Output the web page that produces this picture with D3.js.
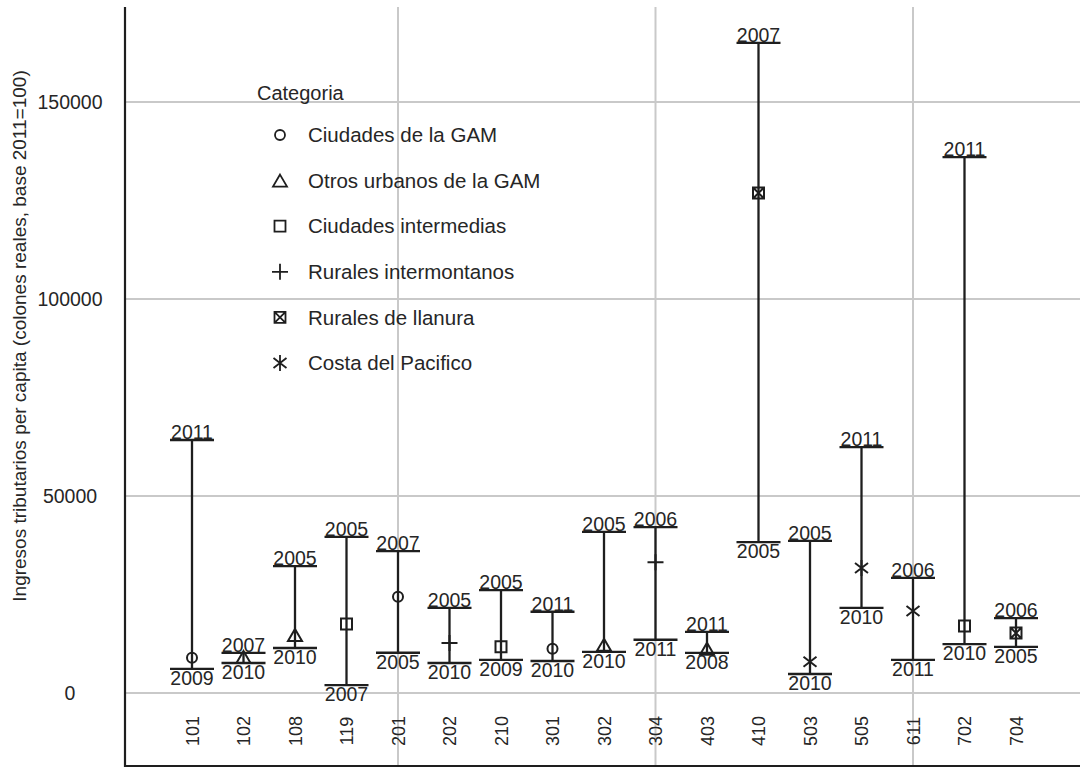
<!DOCTYPE html>
<meta charset="utf-8">
<script src="https://d3js.org/d3.v7.min.js"></script>
<style>
  body { margin: 0; background: #fff; }
  text { font-family: "Liberation Sans", Arial, sans-serif; fill: #262626; }
</style>
<div id="my_dataviz"></div>
<script>

// data
var cantones = ["101","102","108","119","201","202","210","301","302","304","403","410","503","505","611","702","704"];
var grupo    = [0, 1, 1, 2, 0, 3, 2, 0, 1, 3, 1, 4, 5, 5, 5, 2, 4];
var maxVal   = [64200, 10150, 32200, 39600, 36000, 21600, 26100, 20600, 40900, 42100, 15500, 165000, 38600, 62400, 29200, 136000, 19000];
var maxYear  = ["2011","2007","2005","2005","2007","2005","2005","2011","2005","2006","2011","2007","2005","2011","2006","2011","2006"];
var minVal   = [6100, 7600, 11400, 2000, 10200, 7600, 8400, 8100, 10400, 13500, 10150, 38300, 4800, 21600, 8400, 12400, 11700];
var minYear  = ["2009","2010","2010","2007","2005","2010","2009","2010","2010","2011","2008","2005","2010","2010","2011","2010","2005"];
var meanVal  = [8900, 9100, 14700, 17500, 24400, 12700, 11700, 11200, 12200, 33200, 11200, 126900, 7900, 31700, 20800, 17000, 15200];

var categorias = ["Ciudades de la GAM","Otros urbanos de la GAM","Ciudades intermedias","Rurales intermontanos","Rurales de llanura","Costa del Pacifico"];
var yTicks = [0, 50000, 100000, 150000];
var xGrid = ["201","304","611"];

var width = 1080, height = 768;
var ink = "#1e1e1e";

var svg = d3.select("#my_dataviz")
  .append("svg")
    .attr("width", width)
    .attr("height", height);

var x = d3.scalePoint()
  .domain(cantones)
  .range([192, 1016]);

var y = d3.scaleLinear()
  .domain([-18800, 174100])
  .range([767, 7]);

// grid
svg.selectAll(".hgrid")
  .data(yTicks)
  .enter()
  .append("line")
    .attr("x1", 125).attr("x2", width)
    .attr("y1", function(d) { return y(d); })
    .attr("y2", function(d) { return y(d); })
    .attr("stroke", "#c9c9c9")
    .attr("stroke-width", 2);

svg.selectAll(".vgrid")
  .data(xGrid)
  .enter()
  .append("line")
    .attr("x1", function(d) { return x(d); })
    .attr("x2", function(d) { return x(d); })
    .attr("y1", 7).attr("y2", 767)
    .attr("stroke", "#c9c9c9")
    .attr("stroke-width", 2);

// Y axis
var yAxis = svg.append("g")
  .attr("transform", "translate(125,0)")
  .call(d3.axisLeft(y).tickValues(yTicks).tickSize(0).tickFormat(d3.format("d")));
yAxis.select(".domain").remove();
yAxis.selectAll("text")
  .attr("x", -55)
  .attr("text-anchor", "middle")
  .style("font-size", "19.5px")
  .style("font-family", "Liberation Sans, Arial, sans-serif")
  .attr("fill", "#262626");

// X axis
var xAxis = svg.append("g")
  .attr("transform", "translate(0,767)")
  .call(d3.axisBottom(x).tickSize(0));
xAxis.select(".domain").remove();
xAxis.selectAll("text")
  .attr("y", 0).attr("dy", "0.35em")
  .attr("transform", "translate(0,-36) rotate(-90)")
  .attr("text-anchor", "middle")
  .style("font-size", "18px")
  .style("font-family", "Liberation Sans, Arial, sans-serif")
  .attr("fill", "#262626");

// frame lines
svg.append("line")
  .attr("x1", 125).attr("x2", 125)
  .attr("y1", 7).attr("y2", 767)
  .attr("stroke", ink).attr("stroke-width", 2.2);
svg.append("line")
  .attr("x1", 125).attr("x2", width)
  .attr("y1", 766).attr("y2", 766)
  .attr("stroke", ink).attr("stroke-width", 2.2);

// Y title
svg.append("text")
  .attr("transform", "translate(26,336) rotate(-90)")
  .attr("text-anchor", "middle")
  .style("font-size", "19px")
  .text("Ingresos tributarios per capita (colones reales, base 2011=100)");

// marker shapes
function symbolPath(g) {
  switch (g) {
    case 0: return "M-5,0a5,5 0 1,0 10,0a5,5 0 1,0 -10,0";
    case 1: return "M0,-6L7,6L-7,6Z";
    case 2: return "M-5.5,-5.5H5.5V5.5H-5.5Z";
    case 3: return "M-8,0H8M0,-8V8";
    case 4: return "M-5.5,-5.5H5.5V5.5H-5.5ZM-5.5,-5.5L5.5,5.5M5.5,-5.5L-5.5,5.5";
    case 5: return "M0,-8V8M-6.5,-5L6.5,5M-6.5,5L6.5,-5";
  }
}

var idx = d3.range(cantones.length);
var half = 22;

// stems
svg.selectAll(".stem")
  .data(idx)
  .enter()
  .append("line")
    .attr("x1", function(i) { return x(cantones[i]); })
    .attr("x2", function(i) { return x(cantones[i]); })
    .attr("y1", function(i) { return y(maxVal[i]); })
    .attr("y2", function(i) { return y(minVal[i]); })
    .attr("stroke", ink).attr("stroke-width", 2.3);

// caps
svg.selectAll(".capHi")
  .data(idx)
  .enter()
  .append("line")
    .attr("x1", function(i) { return x(cantones[i]) - half; })
    .attr("x2", function(i) { return x(cantones[i]) + half; })
    .attr("y1", function(i) { return y(maxVal[i]); })
    .attr("y2", function(i) { return y(maxVal[i]); })
    .attr("stroke", ink).attr("stroke-width", 2.3);
svg.selectAll(".capLo")
  .data(idx)
  .enter()
  .append("line")
    .attr("x1", function(i) { return x(cantones[i]) - half; })
    .attr("x2", function(i) { return x(cantones[i]) + half; })
    .attr("y1", function(i) { return y(minVal[i]); })
    .attr("y2", function(i) { return y(minVal[i]); })
    .attr("stroke", ink).attr("stroke-width", 2.3);

// year labels
svg.selectAll(".yrHi")
  .data(idx)
  .enter()
  .append("text")
    .attr("x", function(i) { return x(cantones[i]); })
    .attr("y", function(i) { return y(maxVal[i]) - 1; })
    .attr("text-anchor", "middle")
    .style("font-size", "19.5px")
    .text(function(i) { return maxYear[i]; });
svg.selectAll(".yrLo")
  .data(idx)
  .enter()
  .append("text")
    .attr("x", function(i) { return x(cantones[i]); })
    .attr("y", function(i) { return y(minVal[i]) + 16; })
    .attr("text-anchor", "middle")
    .style("font-size", "19.5px")
    .text(function(i) { return minYear[i]; });

// mean markers
svg.selectAll(".marker")
  .data(idx)
  .enter()
  .append("path")
    .attr("transform", function(i) { return "translate(" + x(cantones[i]) + "," + y(meanVal[i]) + ")"; })
    .attr("d", function(i) { return symbolPath(grupo[i]); })
    .attr("fill", "none")
    .attr("stroke", ink)
    .attr("stroke-width", 2);

// legend
var legend = svg.append("g").attr("transform", "translate(257,0)");
legend.append("text")
  .attr("x", 0).attr("y", 100)
  .style("font-size", "20px")
  .text("Categoria");

var item = legend.selectAll(".item")
  .data(categorias)
  .enter()
  .append("g")
    .attr("transform", function(d, i) { return "translate(0," + (135 + i * 45.6) + ")"; });
item.append("path")
  .attr("transform", "translate(23,0)")
  .attr("d", function(d, i) { return symbolPath(i); })
  .attr("fill", "none")
  .attr("stroke", ink)
  .attr("stroke-width", 1.8);
item.append("text")
  .attr("x", 51).attr("dy", "0.35em")
  .style("font-size", "20.5px")
  .text(function(d) { return d; });

</script>
